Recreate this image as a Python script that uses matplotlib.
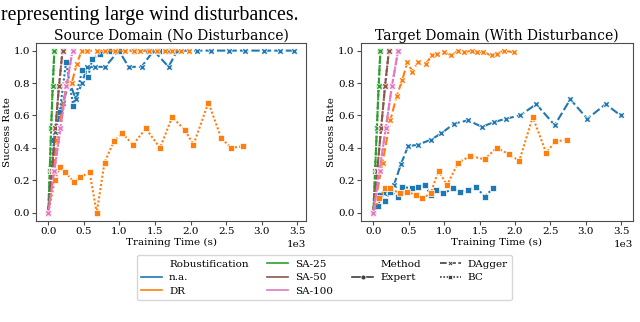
import numpy as np
import matplotlib
matplotlib.use("Agg")
import matplotlib.pyplot as plt
from matplotlib.lines import Line2D

# ---- data (x in seconds, y = success rate) ----
# Source domain
src_na_dagger_x = [0, 100, 200, 300, 390, 470, 550, 660, 800, 990, 1130, 1310, 1480, 1690, 1810,
                   2090, 2280, 2540, 2770, 3030, 3260, 3450]
src_na_dagger_y = [0, 0.50, 0.68, 0.80, 0.70, 0.80, 0.90, 0.90, 0.90, 1.0, 0.90, 0.90, 1.0, 0.90, 1.0,
                   1.0, 1.0, 1.0, 1.0, 1.0, 1.0, 1.0]
src_na_bc_x = [0, 80, 160, 250, 350, 480, 560, 620, 720, 850, 1000, 1200, 1400, 1550, 1700]
src_na_bc_y = [0, 0.45, 0.62, 0.93, 0.66, 0.88, 0.84, 0.95, 0.98, 1.0, 1.0, 1.0, 1.0, 1.0, 1.0]
src_dr_dagger_x = [0, 120, 260, 330, 400, 470, 540, 680, 800, 940, 1080, 1200, 1290, 1410, 1530,
                   1640, 1740, 1860, 1970]
src_dr_dagger_y = [0, 0.45, 0.80, 0.80, 0.92, 1.0, 1.0, 1.0, 1.0, 1.0, 1.0, 1.0, 1.0, 1.0, 1.0,
                   1.0, 1.0, 1.0, 1.0]
src_dr_bc_x = [0, 90, 160, 240, 360, 450, 580, 680, 790, 920, 1040, 1190, 1370, 1570, 1740,
               1920, 2040, 2250, 2430, 2570, 2730]
src_dr_bc_y = [0, 0.20, 0.28, 0.25, 0.19, 0.22, 0.25, 0.0, 0.31, 0.44, 0.49, 0.42, 0.52, 0.40, 0.59,
               0.51, 0.42, 0.68, 0.46, 0.40, 0.41]
src_sa25_x = [0, 20, 40, 62, 85]
src_sa50_x = [0, 50, 100, 150, 200]
src_sa100_x = [0, 85, 170, 255, 340]

# Target domain
tgt_na_dagger_x = [0, 150, 290, 390, 490, 630, 810, 960, 1140, 1340, 1530, 1710, 1870, 2070, 2300,
                   2560, 2780, 3020, 3280, 3490]
tgt_na_dagger_y = [0, 0.12, 0.17, 0.30, 0.41, 0.42, 0.45, 0.49, 0.55, 0.57, 0.53, 0.56, 0.58, 0.60, 0.67,
                   0.54, 0.70, 0.58, 0.67, 0.60]
tgt_na_bc_x = [0, 70, 100, 170, 230, 350, 410, 550, 630, 730, 810, 890, 990, 1130, 1220, 1330,
               1450, 1570, 1690]
tgt_na_bc_y = [0, 0.04, 0.11, 0.07, 0.13, 0.10, 0.16, 0.15, 0.16, 0.17, 0.11, 0.14, 0.12, 0.15, 0.13, 0.14,
               0.16, 0.10, 0.15]
tgt_dr_dagger_x = [0, 130, 240, 330, 410, 480, 550, 630, 740, 830, 900, 1000, 1100, 1200, 1280,
                   1390, 1460, 1550, 1670, 1740, 1840, 1980]
tgt_dr_dagger_y = [0, 0.31, 0.57, 0.72, 0.82, 0.93, 0.87, 0.93, 0.92, 0.97, 0.98, 0.99, 0.97, 1.0, 0.99,
                   1.0, 0.99, 0.99, 0.97, 0.98, 1.0, 0.99]
tgt_dr_bc_x = [0, 80, 170, 240, 370, 470, 600, 690, 810, 920, 1040, 1200, 1370, 1570, 1740,
               1920, 2060, 2250, 2440, 2570, 2740]
tgt_dr_bc_y = [0, 0.09, 0.15, 0.15, 0.12, 0.13, 0.11, 0.09, 0.12, 0.26, 0.17, 0.31, 0.35, 0.33, 0.40,
               0.36, 0.32, 0.59, 0.37, 0.44, 0.45]
tgt_sa25_x = [0, 25, 50, 75, 100]
tgt_sa50_x = [0, 55, 110, 165, 220]
tgt_sa100_x = [0, 88, 175, 262, 350]

sa_y = [0, 0.26, 0.52, 0.78, 1.0]

robust_labels = ["n.a.", "DR", "SA-25", "SA-50", "SA-100"]
robust_colors = ["#1f77b4", "#ff7f0e", "#2ca02c", "#8c564b", "#e377c2"]
method_labels = ["Expert", "DAgger", "BC"]

plt.rcParams["font.family"] = ["DejaVu Serif"]
plt.rcParams["font.size"] = 7.5

style = {
    "DAgger": dict(linestyle=(0, (4, 1.5)), marker="X"),
    "BC": dict(linestyle=(0, (1, 1)), marker="s"),
    "Expert": dict(linestyle="-", marker="o"),
}


def draw(ax, x, y, color, method):
    st = style[method]
    ax.plot(x, y, color=color, linestyle=st["linestyle"], marker=st["marker"],
            markersize=5, markeredgecolor="white", markeredgewidth=0.5, linewidth=1.5)


fig = plt.figure(figsize=(6.4, 3.22), dpi=100)
ax1 = fig.add_axes([0.0563, 0.314, 0.422, 0.554])
ax2 = fig.add_axes([0.564, 0.314, 0.425, 0.554])

panels = [
    (ax1, "Source Domain (No Disturbance)",
     [(src_na_dagger_x, src_na_dagger_y, 0, "DAgger"), (src_na_bc_x, src_na_bc_y, 0, "BC"),
      (src_dr_dagger_x, src_dr_dagger_y, 1, "DAgger"), (src_dr_bc_x, src_dr_bc_y, 1, "BC")],
     [src_sa25_x, src_sa50_x, src_sa100_x]),
    (ax2, "Target Domain (With Disturbance)",
     [(tgt_na_dagger_x, tgt_na_dagger_y, 0, "DAgger"), (tgt_na_bc_x, tgt_na_bc_y, 0, "BC"),
      (tgt_dr_dagger_x, tgt_dr_dagger_y, 1, "DAgger"), (tgt_dr_bc_x, tgt_dr_bc_y, 1, "BC")],
     [tgt_sa25_x, tgt_sa50_x, tgt_sa100_x]),
]

for ax, title, series, sa in panels:
    for x, y, ci, m in series:
        draw(ax, x, y, robust_colors[ci], m)
    for k, sx in enumerate(sa):
        draw(ax, sx, sa_y, robust_colors[2 + k], "BC")
        draw(ax, sx, sa_y, robust_colors[2 + k], "DAgger")
    ax.set_title(title, fontsize=10, pad=2)
    ax.set_xlabel("Training Time (s)", labelpad=1)
    ax.set_ylabel("Success Rate")
    ax.yaxis.set_label_coords(-0.09, 0.5)
    ax.set_xticks(np.arange(0, 3501, 500))
    ax.set_yticks(np.arange(0, 1.01, 0.2))
    ax.ticklabel_format(axis="x", style="sci", scilimits=(3, 3))
    ax.tick_params(length=3, pad=1.5, color="0.3", labelsize=7.5)
    for s in ax.spines.values():
        s.set_color("0.3")

# legend
blank = Line2D([], [], linestyle="none")
handles = [blank]
labels = ["Robustification"]
for lab, c in zip(robust_labels, robust_colors):
    handles.append(Line2D([], [], color=c, linewidth=1.2))
    labels.append(lab)
handles.append(blank)
labels.append("Method")
for m in method_labels:
    st = style[m]
    handles.append(Line2D([], [], color="0.25", linestyle=st["linestyle"], marker=st["marker"],
                          markersize=3.5, markeredgecolor="white", markeredgewidth=0.5, linewidth=1.2))
    labels.append(m)
fig.legend(handles, labels, loc="center", bbox_to_anchor=(0.507, 0.138), ncol=4,
           fontsize=7.5, columnspacing=1.8, handlelength=2.0, handletextpad=0.7, labelspacing=0.42)

fig.text(0.002, 1 - 6 / 322, "representing large wind disturbances.", family="Liberation Serif",
         fontsize=14.3, va="top", ha="left")

fig.savefig("out.png", dpi=100)
